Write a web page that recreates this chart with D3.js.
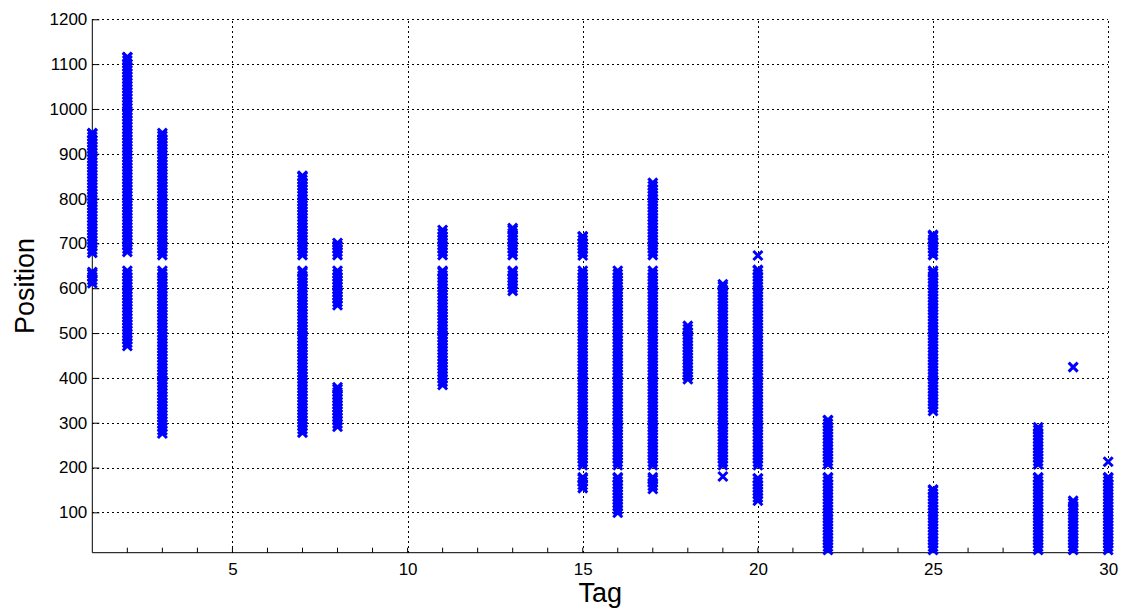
<!DOCTYPE html>
<meta charset="utf-8">
<title>Position by Tag</title>
<style>
body { margin: 0; background: #fff; }
text { font-family: "Liberation Sans", Arial, sans-serif; fill: #000; }
.grid line { stroke: #000; stroke-width: 1; stroke-dasharray: 1.5,3.5; shape-rendering: crispEdges; }
.marks path { fill: none; stroke: #0000ff; stroke-width: 3; }
</style>
<svg width="1125" height="615"></svg>
<script src="https://d3js.org/d3.v7.min.js"></script>
<script>
// tags that have readings, and the position ranges seen for each tag
var tags = [1, 2, 3, 7, 8, 11, 13, 15, 16, 17, 18, 19, 20, 22, 25, 28, 29, 30];
var runs = [
  [[611, 636], [679, 946]],
  [[471, 639], [681, 1116]],
  [[276, 639], [674, 946]],
  [[278, 639], [674, 851]],
  [[291, 379], [562, 639], [674, 701]],
  [[384, 639], [674, 730]],
  [[594, 639], [674, 734]],
  [[154, 178], [205, 639], [673, 716]],
  [[99, 178], [205, 639]],
  [[152, 178], [205, 639], [674, 835]],
  [[397, 516]],
  [[180, 180], [205, 609]],
  [[126, 176], [205, 641], [673, 673]],
  [[16, 178], [207, 306]],
  [[16, 151], [326, 639], [674, 719]],
  [[16, 178], [207, 290]],
  [[16, 126], [424, 424]],
  [[16, 178], [213, 213]]
];
var step = 7; // spacing of recorded positions inside a range

var xTicks = [5, 10, 15, 20, 25, 30];
var yTicks = [100, 200, 300, 400, 500, 600, 700, 800, 900, 1000, 1100, 1200];

var svg = d3.select("svg");

var x = d3.scaleLinear().domain([1, 30]).range([92.3, 1108.2]);
var y = d3.scaleLinear().domain([10, 1200]).range([552.7, 19.3]);

// points
var points = [];
tags.forEach(function(t, i) {
  runs[i].forEach(function(r) {
    d3.range(r[0], r[1], step).concat([r[1]]).forEach(function(p) {
      points.push({tag: t, pos: p});
    });
  });
});

// grid
var grid = svg.append("g").attr("class", "grid");
grid.selectAll(".gy").data(yTicks).enter().append("line")
    .attr("x1", x(1)).attr("x2", x(30))
    .attr("y1", function(d) { return Math.round(y(d)) + 0.5; })
    .attr("y2", function(d) { return Math.round(y(d)) + 0.5; });
grid.selectAll(".gx").data(xTicks).enter().append("line")
    .attr("y1", y(10)).attr("y2", y(1200))
    .attr("x1", function(d) { return Math.round(x(d)) + 0.5; })
    .attr("x2", function(d) { return Math.round(x(d)) + 0.5; });

// axes, ticks pointing inward like matlab
var xAxis = svg.append("g")
    .attr("transform", "translate(0," + y(10) + ")")
    .call(d3.axisBottom(x).tickValues(xTicks).tickSize(0).tickPadding(10).tickFormat(d3.format("d")));
xAxis.select(".domain").remove();
xAxis.selectAll("text").style("font-size", "17px");

svg.append("g")
    .selectAll("line")
    .data(d3.range(2, 31))
    .enter().append("line")
    .attr("x1", function(d) { return x(d); })
    .attr("x2", function(d) { return x(d); })
    .attr("y1", y(10)).attr("y2", y(10) - 5)
    .attr("stroke", "#000");

var yAxis = svg.append("g")
    .attr("transform", "translate(" + x(1) + ",0)")
    .call(d3.axisLeft(y).tickValues(yTicks).tickSize(-7).tickPadding(8).tickFormat(d3.format("d")));
yAxis.select(".domain").remove();
yAxis.selectAll("text").style("font-size", "17px").attr("x", -5);

svg.append("line")
    .attr("x1", x(1)).attr("x2", x(30))
    .attr("y1", y(10)).attr("y2", y(10))
    .attr("stroke", "#000");
svg.append("line")
    .attr("x1", x(1)).attr("x2", x(1))
    .attr("y1", y(10)).attr("y2", y(1200))
    .attr("stroke", "#000");

// markers
svg.append("g").attr("class", "marks")
  .selectAll("path")
  .data(points)
  .enter().append("path")
    .attr("transform", function(d) { return "translate(" + x(d.tag) + "," + y(d.pos) + ")"; })
    .attr("d", "M-4.5,-4.5L4.5,4.5M-4.5,4.5L4.5,-4.5");

// labels
svg.append("text")
    .attr("x", (x(1) + x(30)) / 2)
    .attr("y", 602)
    .attr("text-anchor", "middle")
    .style("font-size", "27px")
    .text("Tag");

svg.append("text")
    .attr("transform", "translate(34," + (y(10) + y(1200)) / 2 + ") rotate(-90)")
    .attr("text-anchor", "middle")
    .style("font-size", "27px")
    .text("Position");
</script>
